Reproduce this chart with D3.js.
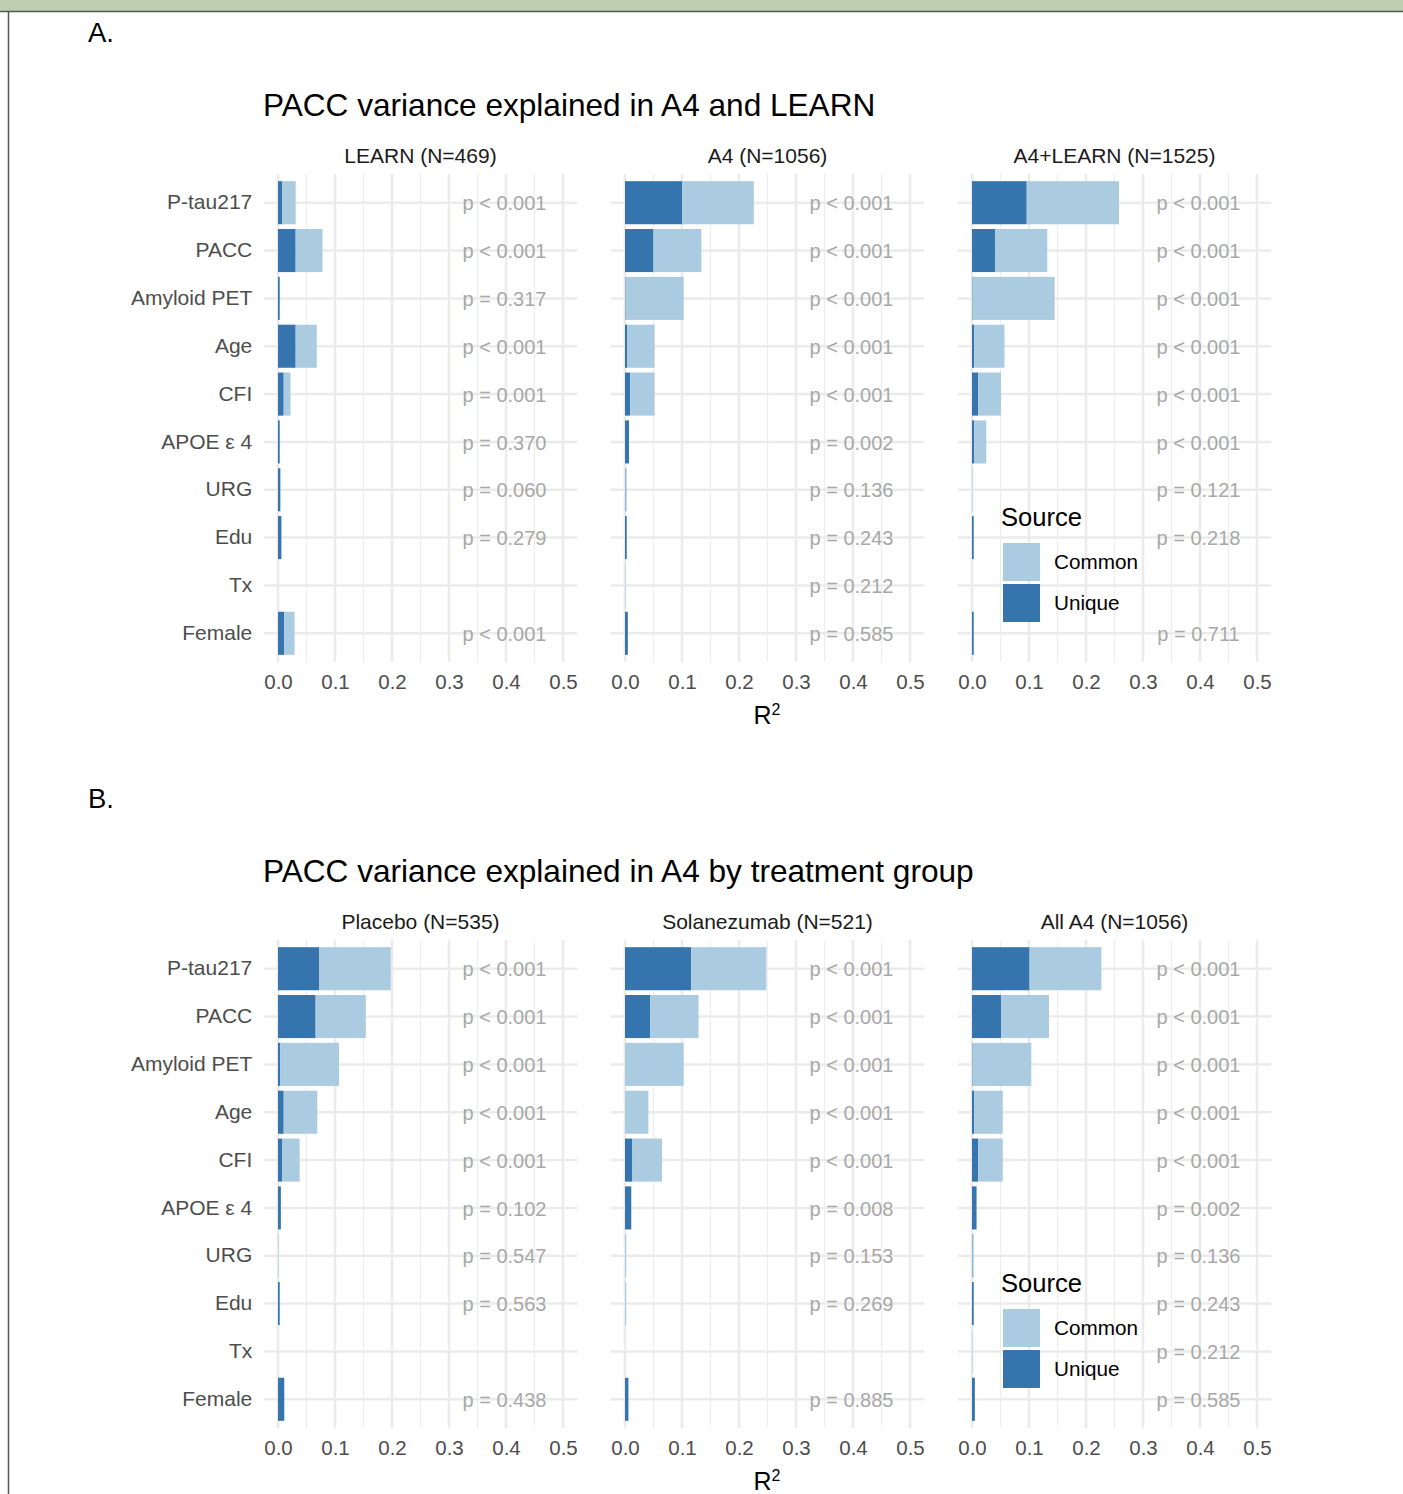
<!DOCTYPE html>
<html>
<head>
<meta charset="utf-8">
<script src="https://cdn.jsdelivr.net/npm/d3@7"></script>
<style>
  body { margin: 0; background: #fff; }
  text { font-family: "Liberation Sans", Arial, Helvetica, sans-serif; }
</style>
</head>
<body>
<div class="chart"></div>
<script>
// ---- data ----
var predictors = ["P-tau217", "PACC", "Amyloid PET", "Age", "CFI", "APOE \u03b5 4", "URG", "Edu", "Tx", "Female"];
var sources = ["Common", "Unique"];
var xTicks = [0, 0.1, 0.2, 0.3, 0.4, 0.5];

// A. PACC variance explained in A4 and LEARN
var facetsA = ["LEARN (N=469)", "A4 (N=1056)", "A4+LEARN (N=1525)"];
var learnUnique = [0.007, 0.031, 0.003, 0.031, 0.010, 0.003, 0.004, 0.006, 0, 0.011];
var learnCommon = [0.024, 0.047, 0.000, 0.037, 0.012, 0.000, 0.001, 0.000, 0, 0.018];
var learnP = ["p < 0.001", "p < 0.001", "p = 0.317", "p < 0.001", "p = 0.001", "p = 0.370", "p = 0.060", "p = 0.279", "", "p < 0.001"];

var a4Unique = [0.100, 0.050, 0.001, 0.004, 0.009, 0.007, 0.001, 0.003, 0.000, 0.005];
var a4Common = [0.126, 0.084, 0.102, 0.048, 0.043, 0.000, 0.002, 0.000, 0.001, 0.000];
var a4P = ["p < 0.001", "p < 0.001", "p < 0.001", "p < 0.001", "p < 0.001", "p = 0.002", "p = 0.136", "p = 0.243", "p = 0.212", "p = 0.585"];

var bothUnique = [0.096, 0.041, 0.001, 0.004, 0.011, 0.004, 0.000, 0.003, 0, 0.003];
var bothCommon = [0.162, 0.091, 0.144, 0.053, 0.040, 0.021, 0.001, 0.000, 0, 0.000];
var bothP = ["p < 0.001", "p < 0.001", "p < 0.001", "p < 0.001", "p < 0.001", "p < 0.001", "p = 0.121", "p = 0.218", "", "p = 0.711"];

// B. PACC variance explained in A4 by treatment group
var facetsB = ["Placebo (N=535)", "Solanezumab (N=521)", "All A4 (N=1056)"];
var placeboUnique = [0.072, 0.066, 0.004, 0.010, 0.007, 0.005, 0.000, 0.003, 0, 0.011];
var placeboCommon = [0.126, 0.088, 0.103, 0.059, 0.031, 0.000, 0.001, 0.000, 0, 0.000];
var placeboP = ["p < 0.001", "p < 0.001", "p < 0.001", "p < 0.001", "p < 0.001", "p = 0.102", "p = 0.547", "p = 0.563", "", "p = 0.438"];

var solaUnique = [0.116, 0.044, 0.000, 0.000, 0.013, 0.011, 0.000, 0.000, 0, 0.006];
var solaCommon = [0.132, 0.085, 0.103, 0.041, 0.052, 0.000, 0.002, 0.002, 0, 0.000];
var solaP = ["p < 0.001", "p < 0.001", "p < 0.001", "p < 0.001", "p < 0.001", "p = 0.008", "p = 0.153", "p = 0.269", "", "p = 0.885"];

var allUnique = [0.101, 0.051, 0.001, 0.004, 0.011, 0.008, 0.001, 0.003, 0.000, 0.005];
var allCommon = [0.126, 0.084, 0.103, 0.050, 0.043, 0.000, 0.002, 0.000, 0.001, 0.000];
var allP = ["p < 0.001", "p < 0.001", "p < 0.001", "p < 0.001", "p < 0.001", "p = 0.002", "p = 0.136", "p = 0.243", "p = 0.212", "p = 0.585"];

var sections = [
  { letter: "A.", title: "PACC variance explained in A4 and LEARN", offset: 0,
    facets: facetsA, unique: [learnUnique, a4Unique, bothUnique],
    common: [learnCommon, a4Common, bothCommon], p: [learnP, a4P, bothP] },
  { letter: "B.", title: "PACC variance explained in A4 by treatment group", offset: 766,
    facets: facetsB, unique: [placeboUnique, solaUnique, allUnique],
    common: [placeboCommon, solaCommon, allCommon], p: [placeboP, solaP, allP] }
];

// ---- layout ----
var svgWidth = 1403;
var svgHeight = 1494;
var panelStep = 347;
var panelTop = 174;
var panelBottom = 662;

var color = d3.scaleOrdinal()
  .domain(sources)
  .range(["#abcbe0", "#3574ad"]);

var svg = d3.select(".chart")
  .append("svg")
  .attr("width", svgWidth)
  .attr("height", svgHeight);

// page frame (cropped caption bar + box border)
svg.append("rect")
  .attr("x", 0).attr("y", 0)
  .attr("width", svgWidth).attr("height", 11)
  .attr("fill", "#bdcfb0");
svg.append("path")
  .attr("d", "M0,11.5H" + svgWidth + "M8.5,11V" + svgHeight)
  .attr("stroke", "#555")
  .attr("stroke-width", 1.5)
  .attr("fill", "none");

sections.forEach(function(sec) {
  var off = sec.offset;
  var g = svg.append("g");

  g.append("text")
    .attr("x", 88)
    .attr("y", 42 + off)
    .attr("font-size", "27.5px")
    .attr("fill", "#000")
    .text(sec.letter);

  g.append("text")
    .attr("x", 263)
    .attr("y", 115.5 + off)
    .attr("font-size", "31.6px")
    .attr("fill", "#000")
    .text(sec.title);

  var y = d3.scaleBand()
    .domain(predictors)
    .range([panelTop + off, panelBottom + off])
    .paddingInner(0.1)
    .paddingOuter(0.15);

  sec.facets.forEach(function(facet, i) {
    var x = d3.scaleLinear()
      .domain([0, 0.5])
      .range([278 + i * panelStep, 563 + i * panelStep]);
    var left = x(-0.025), right = x(0.525);
    var pg = g.append("g");

    // minor grid
    pg.selectAll(".minor")
      .data(d3.range(0.05, 0.5, 0.1))
      .enter().append("line")
      .attr("x1", d => x(d)).attr("x2", d => x(d))
      .attr("y1", panelTop + off).attr("y2", panelBottom + off)
      .attr("stroke", "#ededed")
      .attr("stroke-width", 1.3);

    // major grid
    pg.selectAll(".majorx")
      .data(xTicks)
      .enter().append("line")
      .attr("x1", d => x(d)).attr("x2", d => x(d))
      .attr("y1", panelTop + off).attr("y2", panelBottom + off)
      .attr("stroke", "#ebebeb")
      .attr("stroke-width", 2.5);

    pg.selectAll(".majory")
      .data(predictors)
      .enter().append("line")
      .attr("x1", left).attr("x2", right)
      .attr("y1", d => y(d) + y.bandwidth() / 2)
      .attr("y2", d => y(d) + y.bandwidth() / 2)
      .attr("stroke", "#ebebeb")
      .attr("stroke-width", 2.5);

    // stacked bars: Unique from 0, Common on top of it
    var rows = predictors.map(function(name, k) {
      return { name: name, unique: sec.unique[i][k], common: sec.common[i][k], p: sec.p[i][k] };
    });

    pg.selectAll(".unique")
      .data(rows)
      .enter().append("rect")
      .attr("x", x(0))
      .attr("y", d => y(d.name))
      .attr("width", d => x(d.unique) - x(0))
      .attr("height", y.bandwidth())
      .attr("fill", color("Unique"));

    pg.selectAll(".common")
      .data(rows)
      .enter().append("rect")
      .attr("x", d => x(d.unique))
      .attr("y", d => y(d.name))
      .attr("width", d => x(d.unique + d.common) - x(d.unique))
      .attr("height", y.bandwidth())
      .attr("fill", color("Common"));

    // p-value labels
    pg.selectAll(".pval")
      .data(rows.filter(d => d.p !== ""))
      .enter().append("text")
      .attr("x", x(0.4) - 1.5)
      .attr("y", d => y(d.name) + y.bandwidth() / 2)
      .attr("dy", "0.38em")
      .attr("text-anchor", "middle")
      .attr("font-size", "20px")
      .attr("fill", "#a8a8a8")
      .text(d => d.p);

    // strip label
    pg.append("text")
      .attr("x", (left + right) / 2)
      .attr("y", 162.5 + off)
      .attr("text-anchor", "middle")
      .attr("font-size", "21px")
      .attr("fill", "#1a1a1a")
      .text(facet);

    // x axis tick labels
    var bottomAxis = d3.axisBottom(x)
      .tickValues(xTicks)
      .tickFormat(d3.format(".1f"))
      .tickSize(0)
      .tickPadding(12);
    var xa = pg.append("g")
      .attr("transform", `translate(0, ${panelBottom + off})`)
      .call(bottomAxis);
    xa.select(".domain").remove();
    xa.selectAll("text")
      .attr("font-size", "20.5px")
      .attr("font-family", null)
      .attr("fill", "#4d4d4d");

    // y axis labels, first panel only
    if (i === 0) {
      var leftAxis = d3.axisLeft(y)
        .tickSize(0)
        .tickPadding(11.5);
      var ya = pg.append("g")
        .attr("transform", `translate(${left}, 0)`)
        .call(leftAxis);
      ya.select(".domain").remove();
      ya.selectAll("text")
        .attr("font-size", "21px")
        .attr("font-family", null)
        .attr("fill", "#4d4d4d");
    }
  });

  // x axis title R^2
  var rt = g.append("text")
    .attr("x", 767)
    .attr("y", 724 + off)
    .attr("text-anchor", "middle")
    .attr("font-size", "25px")
    .attr("fill", "#000");
  rt.append("tspan").text("R");
  rt.append("tspan")
    .attr("dy", "-0.55em")
    .attr("font-size", "16px")
    .text("2");

  // legend
  var lg = g.append("g")
    .attr("transform", `translate(1001, ${off})`);
  lg.append("text")
    .attr("x", 0)
    .attr("y", 526)
    .attr("font-size", "25.6px")
    .attr("fill", "#000")
    .text("Source");
  var keys = lg.selectAll(".key")
    .data(sources)
    .enter().append("g")
    .attr("transform", (d, k) => `translate(2, ${543 + k * 41})`);
  keys.append("rect")
    .attr("width", 37)
    .attr("height", 38)
    .attr("fill", d => color(d));
  keys.append("text")
    .attr("x", 51)
    .attr("y", 19)
    .attr("dy", "0.36em")
    .attr("font-size", "20.7px")
    .attr("fill", "#000")
    .text(d => d);
});
</script>
</body>
</html>
